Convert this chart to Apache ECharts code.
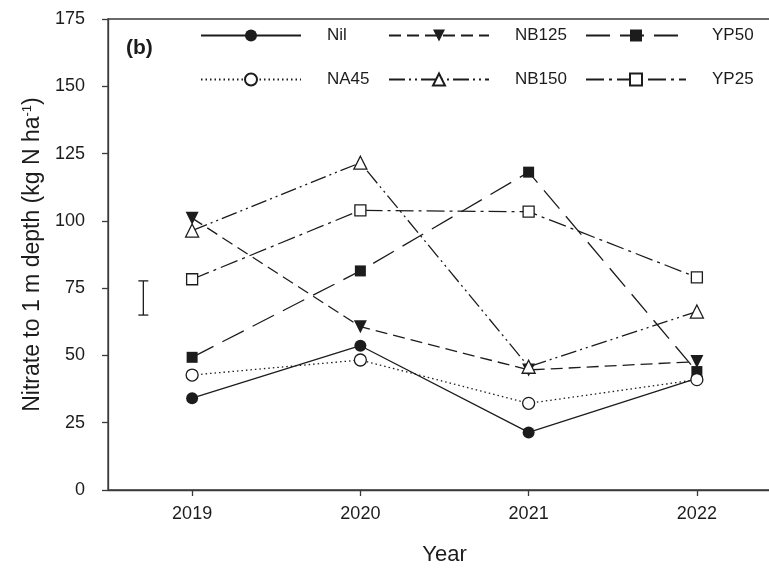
<!DOCTYPE html>
<html>
<head>
<meta charset="utf-8">
<script src="https://cdn.jsdelivr.net/npm/echarts@6/dist/echarts.min.js"></script>
<style>
  html, body { margin: 0; padding: 0; background: #fff; }
  #main { width: 769px; height: 568px; }
</style>
</head>
<body>
<div id="main"></div>
<script>
// values (kg N/ha)
const years = [2019, 2020, 2021, 2022];
const nil   = [34.1, 53.6, 21.4, 41.5];
const nb125 = [101.0, 60.7, 44.6, 47.7];
const yp50  = [49.3, 81.4, 118.1, 44.0];
const na45  = [42.7, 48.3, 32.2, 41.0];
const nb150 = [96.4, 121.6, 45.8, 66.3];
const yp25  = [78.3, 103.9, 103.4, 79.0];
const yTicks = [0, 25, 50, 75, 100, 125, 150, 175];
// LSD bar
const lsdX = 2018.71, lsdLow = 65.0, lsdHigh = 77.7;

const FONT = 'Liberation Sans';
const INK = '#1c1c1c';

function pairs(vals) {
    return years.map((y, i) => [y, vals[i]]);
}

function lineSeries(name, vals, dash, symbol, filled, size, rotate) {
    return {
        name: name,
        type: 'line',
        data: pairs(vals),
        symbol: symbol,
        symbolSize: size,
        symbolRotate: rotate || 0,
        showAllSymbol: true,
        lineStyle: { color: INK, width: 1.3, type: dash },
        itemStyle: {
            color: filled ? INK : '#fff',
            borderColor: INK,
            borderWidth: filled ? 0 : 1.3
        },
        emphasis: { disabled: true },
        z: 3
    };
}

let series = [
    lineSeries('Nil', nil, 'solid', 'circle', true, 12),
    lineSeries('NB125', nb125, [12, 6], 'triangle', true, 13, 180),
    lineSeries('YP50', yp50, [24, 10], 'rect', true, 11),
    lineSeries('NA45', na45, [1.5, 3], 'circle', false, 12),
    lineSeries('NB150', nb150, [16, 4, 2, 4, 2, 4], 'triangle', false, 13),
    lineSeries('YP25', yp25, [18, 5, 3, 5], 'rect', false, 11),
    {
        type: 'custom',
        data: [[lsdX, lsdLow, lsdHigh]],
        silent: true,
        renderItem: function (params, api) {
            let x = api.value(0);
            let top = api.coord([x, api.value(2)]);
            let bot = api.coord([x, api.value(1)]);
            let st = { stroke: INK, lineWidth: 1.3 };
            return {
                type: 'group',
                children: [
                    { type: 'line', shape: { x1: top[0], y1: top[1], x2: bot[0], y2: bot[1] }, style: st },
                    { type: 'line', shape: { x1: top[0] - 5, y1: top[1], x2: top[0] + 5, y2: top[1] }, style: st },
                    { type: 'line', shape: { x1: bot[0] - 5, y1: bot[1], x2: bot[0] + 5, y2: bot[1] }, style: st }
                ]
            };
        }
    }
];

// legend: 2 rows x 3 columns
let legendNames = [['Nil', 'NB125', 'YP50'], ['NA45', 'NB150', 'YP25']];
let colLeft = [200, 388, 585];
let rowTop = [27, 71];
let legends = [];
legendNames.forEach((row, r) => {
    row.forEach((name, c) => {
        legends.push({
            data: [name],
            left: colLeft[c],
            top: rowTop[r],
            padding: 0,
            itemWidth: 100,
            itemHeight: 15,
            selectedMode: false,
            textStyle: { fontFamily: FONT, fontSize: 17, color: INK, padding: [0, 0, 0, 21] }
        });
    });
});

let chart = echarts.init(document.getElementById('main'));
chart.setOption({
    animation: false,
    backgroundColor: '#fff',
    tooltip: { show: false },
    grid: {
        left: 108, top: 19, width: 673, bottom: 78,
        outerBoundsMode: 'none',
        containLabel: false,
        show: true, borderColor: '#3a3a3a', borderWidth: 1.3
    },
    legend: legends,
    graphic: [{
        type: 'text',
        x: 126, y: 48,
        style: { text: '(b)', font: 'bold 21px "Liberation Sans"', fill: INK, verticalAlign: 'middle' }
    }],
    xAxis: {
        type: 'value',
        min: 2018.5,
        max: 2022.5,
        name: 'Year',
        nameLocation: 'middle',
        nameGap: 54,
        nameTextStyle: { fontFamily: FONT, fontSize: 22, color: INK },
        axisLine: { show: true, onZero: false, lineStyle: { color: '#3a3a3a', width: 1.3 } },
        axisTick: { show: true, customValues: years, length: 6, lineStyle: { color: '#3a3a3a', width: 1.3 } },
        axisLabel: {
            customValues: years, margin: 15,
            fontFamily: FONT, fontSize: 18, color: INK,
            formatter: v => String(v)
        },
        splitLine: { show: false }
    },
    yAxis: {
        type: 'value',
        min: 0,
        max: 175,
        interval: 25,
        name: 'Nitrate to 1 m depth (kg N ha{sup|-1})',
        nameLocation: 'middle',
        nameGap: 58,
        nameTextStyle: {
            fontFamily: FONT, fontSize: 23, color: INK,
            rich: { sup: { fontFamily: FONT, fontSize: 13, color: INK, verticalAlign: 'top', lineHeight: 23 } }
        },
        axisLine: { show: true, lineStyle: { color: '#3a3a3a', width: 1.3 } },
        axisTick: { show: true, length: 6, lineStyle: { color: '#3a3a3a', width: 1.3 } },
        axisLabel: {
            customValues: yTicks, margin: 23,
            fontFamily: FONT, fontSize: 18, color: INK
        },
        splitLine: { show: false }
    },
    series: series
});
</script>
</body>
</html>
